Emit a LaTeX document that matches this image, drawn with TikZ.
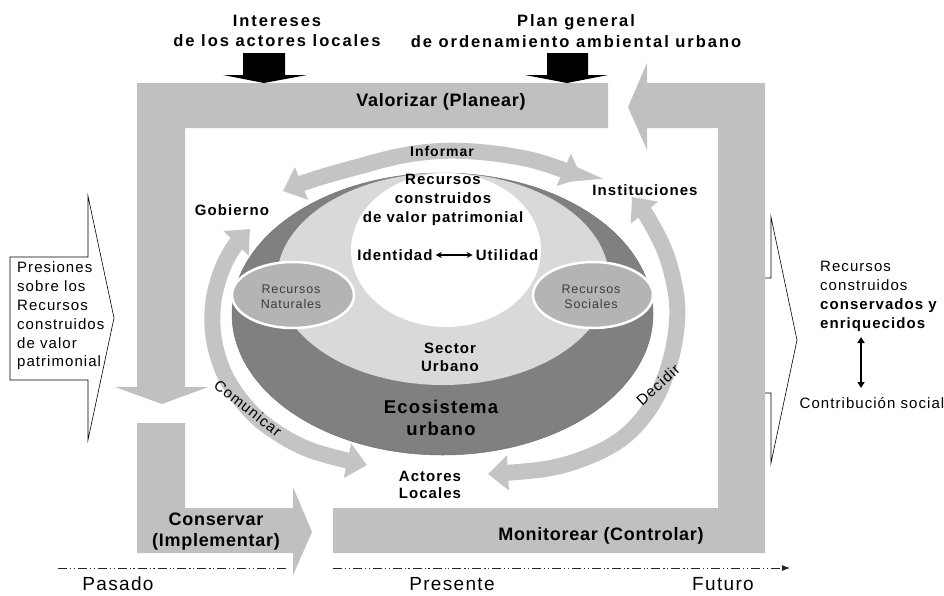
\documentclass[tikz,border=0pt]{standalone}
\usepackage{fontspec}
\setmainfont{Liberation Sans}[LetterSpace=7]
\usetikzlibrary{arrows.meta}
\definecolor{framegray}{RGB}{192,192,192}
\definecolor{arcgray}{RGB}{196,196,196}
\definecolor{darkring}{RGB}{128,128,128}
\definecolor{lightring}{RGB}{217,217,217}
\definecolor{ovalgray}{RGB}{180,180,180}
\definecolor{textgray}{RGB}{60,60,60}
\newcommand{\fsz}[2]{\fontsize{#1}{#2}\selectfont}
\begin{document}
\begin{tikzpicture}[x=1pt,y=-1pt,
  frame/.style={fill=framegray},
  blockout/.style={fill=white,draw=black,line width=0.6pt,line join=miter},
  band/.style={draw=arcgray,line width=16pt,
    {Triangle[width=34pt,length=20pt]}-{Triangle[width=34pt,length=20pt]}},
  oval/.style={fill=ovalgray,draw=white,line width=2.5pt},
  lbl/.style={font=\bfseries\fsz{15}{18},align=center,inner sep=1pt},
  biglbl/.style={font={\bfseries\fsz{18}{21}\addfontfeature{LetterSpace=4}},align=center,inner sep=1pt},
  toplbl/.style={font={\bfseries\fsz{16.5}{20.5}\addfontfeature{LetterSpace=12}},align=center,inner sep=1pt},
  small/.style={font=\fsz{12.5}{15},align=center,text=textgray,inner sep=1pt},
  timeline/.style={line width=0.8pt,draw=black!85,
    dash pattern=on 9pt off 3pt on 1.2pt off 2.5pt on 1.2pt off 3pt},
  timelbl/.style={font=\fsz{19}{22},inner sep=1pt}
]
\useasboundingbox (0,0) rectangle (944,595);

% output arrow (partly hidden behind the frame)
\draw[blockout] (735,278) -- (771,278) -- (771,217) -- (797,340) -- (771,463) -- (771,393) -- (735,393);

% gray frame: Valorizar + down arrow
\fill[frame] (137,83) -- (608,83) -- (608,128) -- (185,128) -- (185,387)
  -- (208,387) -- (162,404) -- (115,387) -- (137,387) -- cycle;
% Conservar
\fill[frame] (137,423) -- (185,423) -- (185,508) -- (293,508) -- (293,487)
  -- (312,532) -- (293,575) -- (293,553) -- (137,553) -- cycle;
% Monitorear + right up + arrow to Valorizar
\fill[frame] (333,508) -- (718,508) -- (718,128) -- (647,128) -- (647,150)
  -- (628,107) -- (647,63) -- (647,83) -- (765,83) -- (765,553) -- (333,553) -- cycle;

% black input arrows
\fill[black] (243,53) -- (285,53) -- (285,75) -- (307,75) -- (264,83) -- (223,75) -- (243,75) -- cycle;
\fill[black] (547,53) -- (588,53) -- (588,75) -- (608,75) -- (567,83) -- (525,75) -- (547,75) -- cycle;

% input arrow on the left
\draw[blockout] (10,257) -- (88,257) -- (88,196) -- (114,318) -- (88,440) -- (88,380) -- (10,380) -- cycle;

% central ellipses
\fill[darkring] (442.5,314) ellipse [x radius=210.5, y radius=141];
\draw[black!55,line width=0.5pt] (442.5,314) ellipse [x radius=210.5, y radius=141];
\fill[lightring] (443,279) ellipse [x radius=166, y radius=106];
\fill[white] (446,250) ellipse [x radius=95, y radius=77];
\draw[oval] (293,295) ellipse [x radius=61, y radius=33];
\draw[oval] (593,295) ellipse [x radius=60, y radius=33];

% circular arrows
\draw[band] plot[smooth,tension=0.6] coordinates
  {(283,191) (315,179) (357,167) (400,156) (440,151) (480,152) (523,158) (555,167) (582,178)};
\draw[band] plot[smooth,tension=0.6] coordinates
  {(250,229) (232,250) (220,275) (213,305) (214,340) (225,375) (245,405) (270,428) (310,450) (367,465)};
\draw[band] plot[smooth,tension=0.6] coordinates
  {(632,197) (652,225) (668,260) (677,303) (674,345) (662,385) (645,415) (620,440) (585,458) (545,469) (488,474)};

% top texts
\node[toplbl] (intereses) at (277,31) {Intereses\\de los actores locales};
\node[toplbl] (plan) at (576,31) {Plan general\\de ordenamiento ambiental urbano};
\node[biglbl] (valorizar) at (441,102) {Valorizar (Planear)};
\node[biglbl] (conservar) at (216,532) {Conservar\\(Implementar)};
\node[biglbl] (monitorear) at (601,536) {Monitorear (Controlar)};

% centre texts
\node[font=\bfseries\fsz{14}{16},inner sep=1pt] (informar) at (442,151) {Informar};
\node[lbl,font=\bfseries\fsz{15}{19}] (patrimonio) at (443,200) {Recursos\\construidos\\de valor patrimonial};
\node[lbl] (identidad) at (395,255) {Identidad};
\node[lbl] (utilidad) at (507,255) {Utilidad};
\draw[{Stealth[length=6pt,width=6pt]}-{Stealth[length=6pt,width=6pt]},line width=1.3pt,shorten <=2pt,shorten >=2pt]
  (identidad) -- (utilidad);
\node[small] (naturales) at (291,297) {Recursos\\Naturales};
\node[small] (sociales) at (591,297) {Recursos\\Sociales};
\node[lbl] (sector) at (450,357) {Sector\\Urbano};
\node[lbl,font=\bfseries\fsz{18.5}{22}] (ecosistema) at (441,418) {Ecosistema\\urbano};
\node[lbl,font=\bfseries\fsz{15}{17.5}] (actores) at (430,485) {Actores\\Locales};
\node[lbl] (gobierno) at (232,210) {Gobierno};
\node[lbl] (instituciones) at (645,190) {Instituciones};
\node[font=\fsz{15}{17},rotate=-38,inner sep=0pt] (comunicar) at (248,408) {Comunicar};
\node[font=\fsz{15}{17},rotate=43,inner sep=0pt] (decidir) at (658,385) {Decidir};

% side texts
\node[font=\fsz{15}{18.8},align=left,anchor=west,inner sep=1pt] (presiones) at (16,316)
  {Presiones\\sobre los\\Recursos\\construidos\\de valor\\patrimonial};
\node[font=\fsz{15}{19},align=left,anchor=west,inner sep=1pt] (resultado) at (819,296)
  {Recursos\\construidos\\\textbf{conservados y}\\\textbf{enriquecidos}};
\node[font=\fsz{15}{18},inner sep=1pt] (contribucion) at (872,403) {Contribución social};
\coordinate (va) at (861,337);
\coordinate (vb) at (861,388);
\draw[{Triangle[length=6pt,width=7pt]}-{Triangle[length=6pt,width=7pt]},line width=2pt] (va) -- (vb);

% timeline
\coordinate (t0) at (58,568);
\coordinate (t1) at (287,568);
\coordinate (t2) at (333,568);
\coordinate (t3) at (790,568);
\draw[timeline] (t0) -- (t1);
\draw[timeline,-{Latex[length=8pt,width=6pt]}] (t2) -- (t3);
\node[timelbl] (pasado) at (118,584) {Pasado};
\node[timelbl] (presente) at (452,584) {Presente};
\node[timelbl] (futuro) at (723,584) {Futuro};
\end{tikzpicture}
\end{document}
